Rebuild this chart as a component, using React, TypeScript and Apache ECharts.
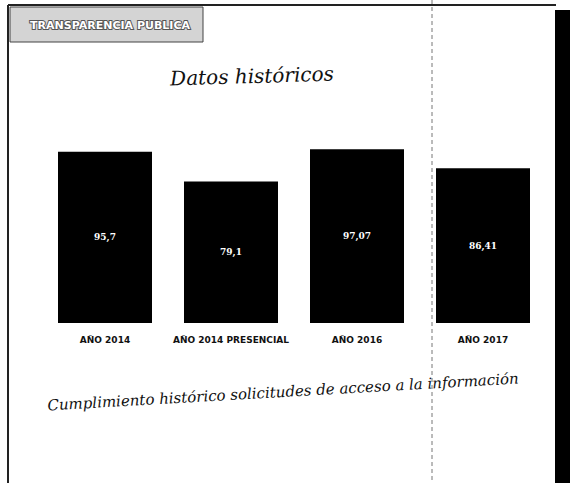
import React, { useEffect, useRef } from "react";
import * as echarts from "echarts";

const categories = ["AÑO 2014", "AÑO 2014 PRESENCIAL", "AÑO 2016", "AÑO 2017"];
const values = [95.7, 79.1, 97.07, 86.41];
const titleText = "Datos históricos";
const footerText = "Cumplimiento histórico solicitudes de acceso a la información";
const headerText = "TRANSPARENCIA PUBLICA";

export default function App() {
  const ref = useRef<HTMLDivElement>(null);
  useEffect(() => {
    if (!ref.current) return;
    const chart = echarts.init(ref.current, null, { renderer: "svg" });
    chart.setOption({
      animation: false,
      backgroundColor: "#fff",
      grid: { left: 42, right: 24, top: 144, bottom: 160 },
      xAxis: {
        type: "category",
        data: categories,
        axisLine: { show: false },
        axisTick: { show: false },
        axisLabel: {
          color: "#111",
          fontSize: 9,
          fontWeight: "bold",
          fontFamily: "DejaVu Sans",
          margin: 12,
          interval: 0,
        },
      },
      yAxis: {
        type: "value",
        min: 0,
        max: 100,
        show: false,
        splitLine: { show: false },
      },
      series: [
        {
          type: "bar",
          data: values,
          barWidth: 94,
          itemStyle: { color: "#000" },
          label: {
            show: true,
            position: "inside",
            color: "#fff",
            fontSize: 9,
            fontWeight: "bold",
            fontFamily: "DejaVu Serif",
            formatter: (p: any) => String(p.value).replace(".", ","),
          },
        },
      ],
      graphic: [
        { type: "line", shape: { x1: 8, y1: 5, x2: 556, y2: 5 }, style: { stroke: "#222", lineWidth: 2 } },
        { type: "line", shape: { x1: 8, y1: 5, x2: 8, y2: 483 }, style: { stroke: "#222", lineWidth: 2 } },
        { type: "line", shape: { x1: 432, y1: 0, x2: 432, y2: 483 }, style: { stroke: "#777", lineWidth: 1, lineDash: [4, 3] } },
        { type: "rect", shape: { x: 555, y: 10, width: 15, height: 473 }, style: { fill: "#000" } },
        {
          type: "rect",
          shape: { x: 10, y: 7, width: 193, height: 35 },
          style: { fill: "#d4d4d4", stroke: "#444", lineWidth: 1 },
        },
        {
          type: "text",
          x: 110,
          y: 25,
          style: {
            text: headerText,
            fill: "#fff",
            stroke: "#555",
            lineWidth: 2,
            fontSize: 11,
            fontWeight: "bold",
            fontFamily: "DejaVu Sans",
            textAlign: "center",
            textVerticalAlign: "middle",
          },
        },
        {
          type: "text",
          x: 252,
          y: 76,
          rotation: 0.03,
          style: {
            text: titleText,
            fill: "#111",
            fontSize: 20,
            fontStyle: "italic",
            fontFamily: "DejaVu Serif",
            textAlign: "center",
            textVerticalAlign: "middle",
          },
        },
        {
          type: "text",
          x: 283,
          y: 392,
          rotation: 0.057,
          style: {
            text: footerText,
            fill: "#111",
            fontSize: 15,
            fontStyle: "italic",
            fontFamily: "DejaVu Serif",
            textAlign: "center",
            textVerticalAlign: "middle",
          },
        },
      ],
    });
    return () => chart.dispose();
  }, []);
  return <div ref={ref} style={{ width: 570, height: 483, position: "absolute", left: 0, top: 0 }} />;
}
